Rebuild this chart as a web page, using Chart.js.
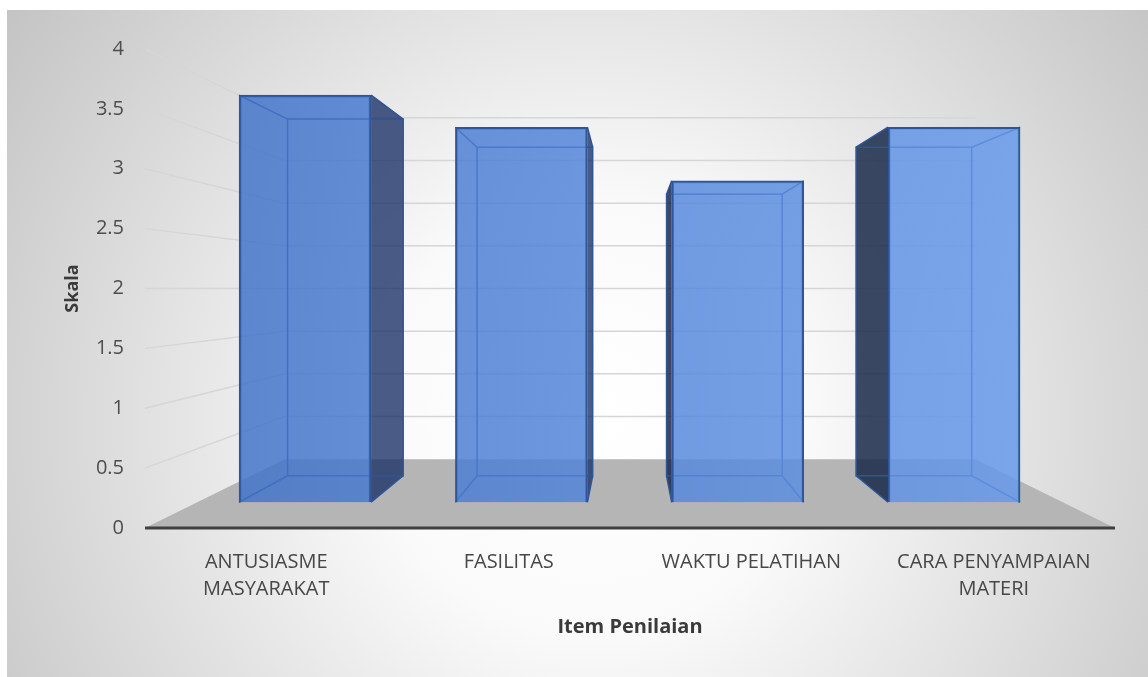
<!DOCTYPE html>
<html>
<head>
<meta charset="utf-8">
<script src="https://cdn.jsdelivr.net/npm/chart.js@4/dist/chart.umd.min.js"></script>
<style>
  html, body { margin: 0; padding: 0; background: #fff; }
</style>
</head>
<body>
<canvas id="chart" width="1148" height="677"></canvas>
<script>
const categories = [['ANTUSIASME', 'MASYARAKAT'], 'FASILITAS', 'WAKTU PELATIHAN', ['CARA PENYAMPAIAN', 'MATERI']];
const scores = [3.8, 3.5, 3.0, 3.5];
const yTicks = [0, 0.5, 1, 1.5, 2, 2.5, 3, 3.5, 4];
const yTitle = 'Skala';
const xTitle = 'Item Penilaian';

const FONT = "'Open Sans', sans-serif";
const WALL = 0.7125;  // back wall depth factor
const DEPTH = 0.876;  // bar back face depth factor (relative to bar front)

// fake 3d: floor, walls and box sides around the flat bars
const box3d = {
  id: 'box3d',
  beforeDraw(chart) {
    const ctx = chart.ctx;
    ctx.save();
    ctx.fillStyle = '#fff';
    ctx.fillRect(0, 0, chart.width, chart.height);
    const g = ctx.createRadialGradient(590, 420, 0, 590, 420, 720);
    g.addColorStop(0, '#ffffff');
    g.addColorStop(0.3, '#fafafa');
    g.addColorStop(1, '#c3c3c3');
    ctx.fillStyle = g;
    ctx.fillRect(7, 10, chart.width - 7, chart.height - 10);
    ctx.restore();
  },
  beforeDatasetsDraw(chart) {
    const {ctx, chartArea: a, scales: {y}} = chart;
    const vx = (a.left + a.right) / 2, vy = y.getPixelForValue(2);
    const toWall = (px, py) => [vx + (px - vx) * WALL, vy + (py - vy) * WALL];
    ctx.save();
    const bl = toWall(a.left, 0)[0], br = toWall(a.right, 0)[0];
    // gridlines on side wall and back wall
    ctx.strokeStyle = '#d6d6d6';
    ctx.lineWidth = 1.5;
    yTicks.forEach(v => {
      if (v === 0) return;
      const fy = y.getPixelForValue(v);
      const [wx, wy] = toWall(a.left, fy);
      ctx.beginPath();
      ctx.moveTo(a.left, fy);
      ctx.lineTo(wx, wy);
      ctx.lineTo(br, wy);
      ctx.stroke();
    });
    // floor
    const y0 = y.getPixelForValue(0);
    const [, by0] = toWall(a.left, y0);
    ctx.fillStyle = '#b5b5b5';
    ctx.beginPath();
    ctx.moveTo(a.left, y0);
    ctx.lineTo(bl, by0);
    ctx.lineTo(br, by0);
    ctx.lineTo(a.right, y0);
    ctx.closePath();
    ctx.fill();
    // axis line
    ctx.strokeStyle = '#404040';
    ctx.lineWidth = 3;
    ctx.beginPath();
    ctx.moveTo(a.left, y0);
    ctx.lineTo(a.right, y0);
    ctx.stroke();

    // bar sides and back edges
    const p = (px, py) => [vx + (px - vx) * DEPTH, vy + (py - vy) * DEPTH];
    chart.getDatasetMeta(0).data.forEach(bar => {
      const L = bar.x - bar.width / 2, R = bar.x + bar.width / 2, T = bar.y, B = bar.base;
      const [bL, bT] = p(L, T), [bR, bB] = p(R, B);
      const left = bar.x > vx;
      const fx = left ? L : R, bx = left ? bL : bR;
      ctx.fillStyle = left ? 'rgba(22,38,72,0.84)' : 'rgba(24,48,100,0.78)';
      ctx.beginPath();
      ctx.moveTo(fx, T);
      ctx.lineTo(bx, bT);
      ctx.lineTo(bx, bB);
      ctx.lineTo(fx, B);
      ctx.closePath();
      ctx.fill();
      ctx.strokeStyle = '#2f5597';
      ctx.lineWidth = 1.5;
      ctx.strokeRect(bL, bT, bR - bL, bB - bT);
      ctx.beginPath();
      ctx.moveTo(L, T); ctx.lineTo(bL, bT);
      ctx.moveTo(R, T); ctx.lineTo(bR, bT);
      ctx.moveTo(L, B); ctx.lineTo(bL, bB);
      ctx.moveTo(R, B); ctx.lineTo(bR, bB);
      ctx.stroke();
    });
    ctx.restore();
  }
};

new Chart(document.getElementById('chart'), {
  type: 'bar',
  data: {
    labels: categories,
    datasets: [{
      label: yTitle,
      data: scores.map((v, i) => ({x: i, y: v})),
      xAxisID: 'x2',
      yAxisID: 'y2',
      barThickness: 132,
      borderColor: '#2f5597',
      borderWidth: 2,
      backgroundColor: c => {
        const a = c.chart.chartArea;
        if (!a) return 'rgba(68,114,196,0.85)';
        const g = c.chart.ctx.createLinearGradient(a.left, 0, a.right, 0);
        g.addColorStop(0, 'rgba(60,110,196,0.84)');
        g.addColorStop(1, 'rgba(108,158,240,0.84)');
        return g;
      }
    }]
  },
  options: {
    responsive: false,
    animation: false,
    layout: { padding: { top: 49, right: 33, bottom: 0, left: 0 } },
    plugins: { legend: { display: false }, tooltip: { enabled: false } },
    scales: {
      x: {
        type: 'category',
        offset: true,
        grid: { display: false, drawTicks: false },
        border: { display: false },
        ticks: { color: '#474747', font: { family: FONT, size: 20, lineHeight: 1.335 }, padding: 21, maxRotation: 0, autoSkip: false },
        title: { display: true, text: xTitle, color: '#3a3a3a', font: { family: FONT, size: 20, weight: 'bold' }, padding: { top: 0, bottom: 38 } },
        afterFit(s) { s.height = 149; }
      },
      y: {
        type: 'linear',
        min: 0,
        max: 4,
        afterBuildTicks(s) { s.ticks = yTicks.map(v => ({ value: v })); },
        grid: { display: false, drawTicks: false },
        border: { display: false },
        ticks: { color: '#4d4d4d', font: { family: FONT, size: 20 }, padding: 21, callback: v => String(v) },
        title: { display: true, text: yTitle, color: '#3a3a3a', font: { family: FONT, size: 18, weight: 'bold' }, padding: { top: 62, bottom: 0 } },
        afterFit(s) { s.width = 145; }
      },
      x2: { type: 'linear', display: false, offset: false, min: -0.74, max: 3.744 },
      y2: { type: 'linear', display: false, min: -0.24, max: 4.23 }
    }
  },
  plugins: [box3d]
});
</script>
</body>
</html>
